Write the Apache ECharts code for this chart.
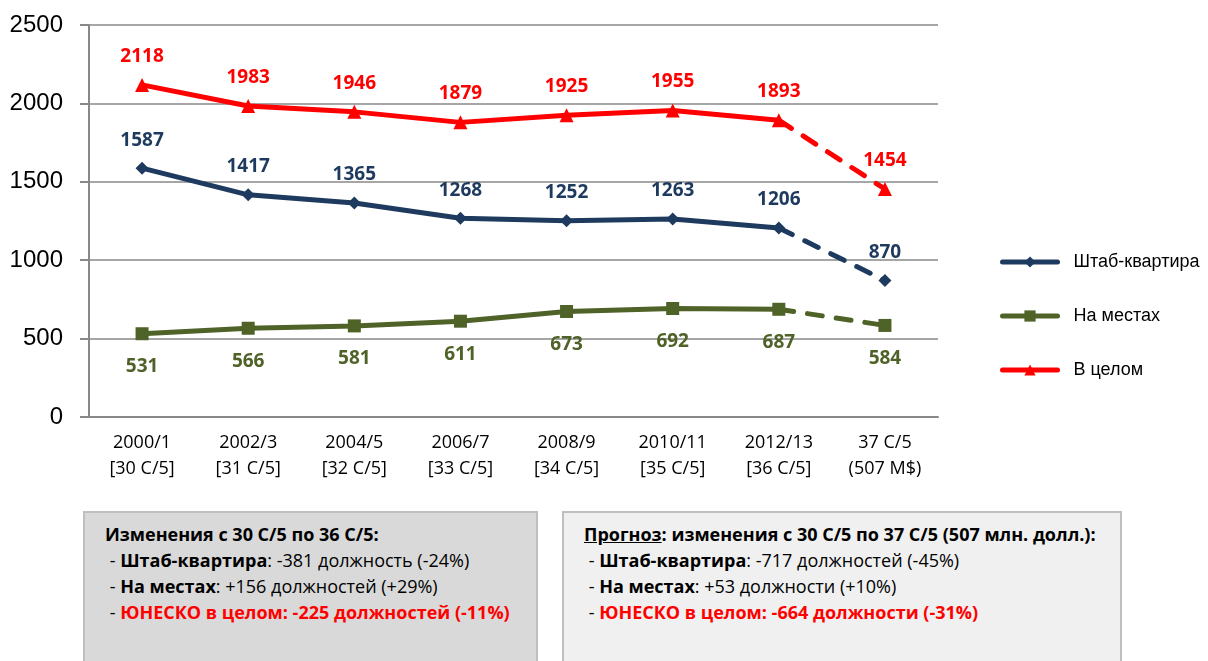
<!DOCTYPE html>
<html lang="ru">
<head>
<meta charset="UTF-8">
<title>Штаб-квартира / На местах / В целом</title>
<script src="https://cdn.jsdelivr.net/npm/echarts@6/dist/echarts.min.js"></script>
<style>
	html, body { margin: 0; padding: 0; background: #fff; overflow: hidden; }
	#wrap { position: relative; width: 1208px; height: 661px; }
	#chart { position: absolute; left: 0; top: 0; width: 1208px; height: 661px; }
	.box {
		position: absolute; top: 511px; height: 170px; box-sizing: border-box;
		border: 2px solid #BFBFBF; padding: 8px 0 0 20px;
		font-family: 'Open Sans', sans-serif; font-size: 18px; line-height: 26px; color: #000;
		white-space: nowrap;
	}
	.box b { font-weight: 700; }
	.red { color: #FF0000; font-weight: 700; }
</style>
</head>
<body>
<div id="wrap">
	<div id="chart"></div>
	<div class="box" style="left:83px;width:455px;background:#D9D9D9;">
		<b>Изменения с 30 С/5 по 36 С/5:</b><br>
		&nbsp;- <b>Штаб-квартира</b>: -381 должность (-24%)<br>
		&nbsp;- <b>На местах</b>: +156 должностей (+29%)<br>
		&nbsp;- <span class="red">ЮНЕСКО в целом: -225 должностей (-11%)</span>
	</div>
	<div class="box" style="left:562px;width:560px;background:#F0F0F0;">
		<b><u>Прогноз</u>: изменения с 30 С/5 по 37 С/5 (507 млн. долл.):</b><br>
		&nbsp;- <b>Штаб-квартира</b>: -717 должностей (-45%)<br>
		&nbsp;- <b>На местах</b>: +53 должности (+10%)<br>
		&nbsp;- <span class="red">ЮНЕСКО в целом: -664 должности (-31%)</span>
	</div>
</div>
<script>
	// categories (last one is the forecast)
	var categories = ['2000/1\n[30 C/5]', '2002/3\n[31 C/5]', '2004/5\n[32 C/5]', '2006/7\n[33 C/5]',
		'2008/9\n[34 C/5]', '2010/11\n[35 C/5]', '2012/13\n[36 C/5]', '37 C/5\n(507 M$)'];
	var yTicks = [0, 500, 1000, 1500, 2000, 2500];

	var hq = [1587, 1417, 1365, 1268, 1252, 1263, 1206, 870];
	var field = [531, 566, 581, 611, 673, 692, 687, 584];
	var total = [2118, 1983, 1946, 1879, 1925, 1955, 1893, 1454];

	var names = ['Штаб-квартира', 'На местах', 'В целом'];
	var colors = ['#1F3A5F', '#4F6228', '#FF0000'];
	var symbols = ['diamond', 'rect', 'triangle'];
	var symbolSizes = [13, 13, 14];
	var labelPos = ['top', 'bottom', 'top'];
	var labelDist = [12, 17, 12];
	var lastActual = 6; // index of last actual value, after it the forecast is dashed

	var labelFont = { fontFamily: 'Open Sans', fontWeight: 'bold', fontSize: 19 };

	function makeSeries(values, k) {
		var solid = values.map(function (v, i) { return i <= lastActual ? v : null; });
		var dashed = values.map(function (v, i) {
			if (i < lastActual) return null;
			if (i === lastActual) return { value: v, symbol: 'none', label: { show: false } };
			return v;
		});
		var label = Object.assign({
			show: true, position: labelPos[k], distance: labelDist[k], color: colors[k]
		}, labelFont);
		return [
			{
				name: names[k], type: 'line', data: solid,
				symbol: symbols[k], symbolSize: symbolSizes[k], showAllSymbol: true,
				itemStyle: { color: colors[k] },
				lineStyle: { color: colors[k], width: 5 },
				label: label, z: 3 - k + 2
			},
			{
				name: names[k] + ' (прогноз)', type: 'line', data: dashed,
				symbol: symbols[k], symbolSize: symbolSizes[k], showAllSymbol: true,
				itemStyle: { color: colors[k] },
				lineStyle: { color: colors[k], width: 5, type: [15, 14], cap: 'round' },
				label: label, z: 3 - k + 2
			}
		];
	}

	var series = [].concat(makeSeries(hq, 0), makeSeries(field, 1), makeSeries(total, 2));

	var chart = echarts.init(document.getElementById('chart'));
	chart.setOption({
		animation: false,
		grid: { left: 89, right: 270, top: 25, bottom: 244 },
		legend: {
			data: names,
			orient: 'vertical',
			left: 995, top: 248,
			itemWidth: 55, itemHeight: 14, itemGap: 36,
			lineStyle: { width: 5, cap: 'round' },
			textStyle: { fontFamily: 'Liberation Sans', fontSize: 18, color: '#000', padding: [0, 0, 0, 11] }
		},
		xAxis: {
			type: 'category', data: categories, boundaryGap: true,
			axisLine: { lineStyle: { color: '#888', width: 2 } },
			axisTick: { show: false },
			axisLabel: { margin: 13, fontFamily: 'Open Sans', fontSize: 18, lineHeight: 26, color: '#000' }
		},
		yAxis: {
			type: 'value', min: yTicks[0], max: yTicks[yTicks.length - 1], interval: 500,
			axisLine: { show: true, lineStyle: { color: '#888', width: 2 } },
			axisTick: { show: true, length: 9, inside: false, lineStyle: { color: '#888', width: 2 } },
			splitLine: { lineStyle: { color: '#A6A6A6', width: 2 } },
			axisLabel: {
				margin: 26, fontFamily: 'Liberation Sans', fontSize: 24, color: '#000',
				formatter: function (v) { return String(v); }
			}
		},
		series: series
	});
</script>
</body>
</html>
